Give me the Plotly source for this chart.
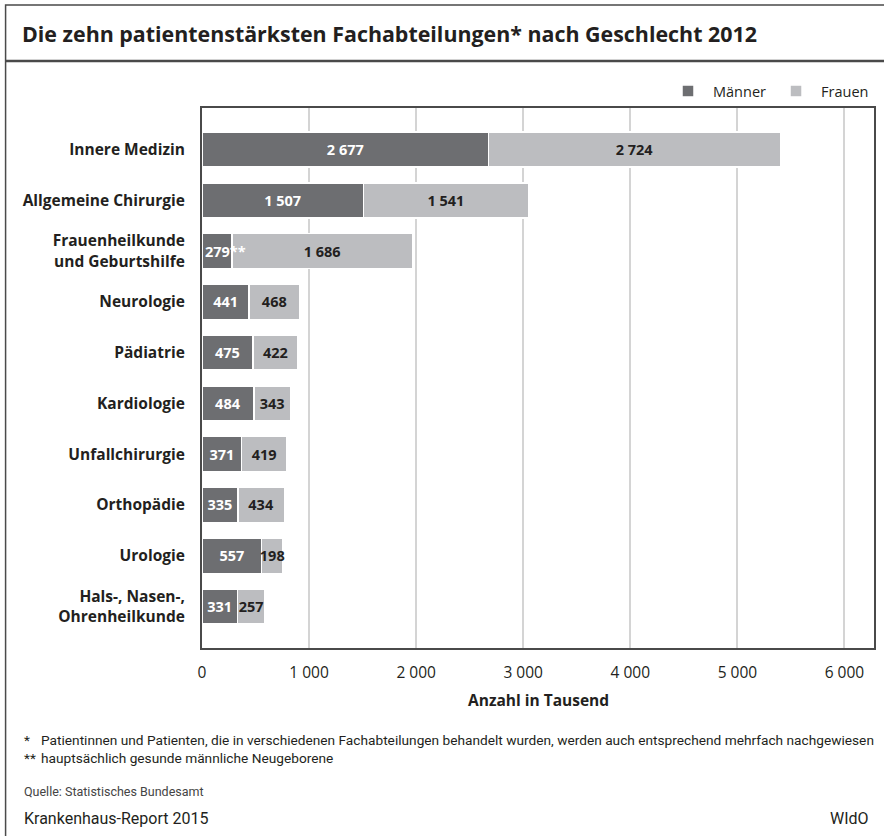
import plotly.graph_objects as go

# ---------------- data ----------------
categories = [
    "Innere Medizin",
    "Allgemeine Chirurgie",
    "Frauenheilkunde<br>und Geburtshilfe",
    "Neurologie",
    "Pädiatrie",
    "Kardiologie",
    "Unfallchirurgie",
    "Orthopädie",
    "Urologie",
    "Hals-, Nasen-,<br>Ohrenheilkunde",
]
maenner = [2677, 1507, 279, 441, 475, 484, 371, 335, 557, 331]
frauen = [2724, 1541, 1686, 468, 422, 343, 419, 434, 198, 257]
maenner_note = ["", "", "**", "", "", "", "", "", "", ""]
x_ticks = [0, 1000, 2000, 3000, 4000, 5000, 6000]

title = "Die zehn patientenstärksten Fachabteilungen* nach Geschlecht 2012"
x_title = "Anzahl in Tausend"
footnote1 = "Patientinnen und Patienten, die in verschiedenen Fachabteilungen behandelt wurden, werden auch entsprechend mehrfach nachgewiesen"
footnote2 = "hauptsächlich gesunde männliche Neugeborene"
source = "Quelle: Statistisches Bundesamt"
report = "Krankenhaus-Report 2015"
brand = "WIdO"

# ---------------- style ----------------
FONT = "Open Sans"
FONT_NARROW = "Roboto"
DARK = "#6d6e71"
LIGHT = "#bcbdc0"
TEXT = "#231f20"
FRAME = "#4a4a4a"

W_PX, H_PX = 884, 836
L, R, T, B = 202, 876, 108, 648
PW, PH = R - L, B - T


def px_x(x):
    return (x - L) / PW


def px_y(y):
    return (B - y) / PH


def fmt(v):
    return f"{v:,}".replace(",", " ")


m_text = ["" if n else fmt(v) for v, n in zip(maenner, maenner_note)]
f_text = [fmt(v) for v in frauen]

LABEL_SIZE = 14.5

fig = go.Figure()
fig.add_trace(go.Bar(
    name="Männer", y=categories, x=maenner, orientation="h",
    marker=dict(color=DARK, line=dict(color="white", width=1.5)),
    text=m_text, textposition="inside", insidetextanchor="middle",
    textangle=0,
    insidetextfont=dict(family=FONT, size=LABEL_SIZE, color="white", weight="bold"),
    hoverinfo="skip",
))
fig.add_trace(go.Bar(
    name="Frauen", y=categories, x=frauen, orientation="h",
    marker=dict(color=LIGHT, line=dict(color="white", width=1.5)),
    text=f_text, textposition="inside", insidetextanchor="middle",
    textangle=0,
    insidetextfont=dict(family=FONT, size=LABEL_SIZE, color=TEXT, weight="bold"),
    hoverinfo="skip",
))

annotations = []
# labels for bars with footnote markers (start-anchored, overflow allowed)
for cat, v, n in zip(categories, maenner, maenner_note):
    if n:
        annotations.append(dict(
            x=0, y=cat, xref="x", yref="y", text=f"{fmt(v)}{n}",
            xanchor="left", yanchor="middle", xshift=1, showarrow=False,
            font=dict(family=FONT, size=LABEL_SIZE, color="white", weight="bold"),
        ))

annotations += [
    dict(x=px_x(19), y=px_y(33), xref="paper", yref="paper", text=f"<b>{title}</b>",
         xanchor="left", yanchor="middle", showarrow=False,
         font=dict(family=FONT, size=21.4, color=TEXT)),
    dict(x=0.5, y=px_y(700), xref="paper", yref="paper", text=f"<b>{x_title}</b>",
         xanchor="center", yanchor="middle", showarrow=False,
         font=dict(family=FONT, size=15.5, color=TEXT)),
    dict(x=px_x(21), y=px_y(740), xref="paper", yref="paper", text="*",
         xanchor="left", yanchor="middle", showarrow=False,
         font=dict(family=FONT_NARROW, size=13.7, color=TEXT)),
    dict(x=px_x(39), y=px_y(740), xref="paper", yref="paper", text=footnote1,
         xanchor="left", yanchor="middle", showarrow=False,
         font=dict(family=FONT_NARROW, size=13.7, color=TEXT)),
    dict(x=px_x(21), y=px_y(758), xref="paper", yref="paper", text="**",
         xanchor="left", yanchor="middle", showarrow=False,
         font=dict(family=FONT_NARROW, size=13.7, color=TEXT)),
    dict(x=px_x(39), y=px_y(758), xref="paper", yref="paper", text=footnote2,
         xanchor="left", yanchor="middle", showarrow=False,
         font=dict(family=FONT_NARROW, size=13.7, color=TEXT)),
    dict(x=px_x(21), y=px_y(791), xref="paper", yref="paper", text=source,
         xanchor="left", yanchor="middle", showarrow=False,
         font=dict(family=FONT_NARROW, size=12.5, color="#444444")),
    dict(x=px_x(21), y=px_y(818), xref="paper", yref="paper", text=report,
         xanchor="left", yanchor="middle", showarrow=False,
         font=dict(family=FONT_NARROW, size=16, color=TEXT)),
    dict(x=px_x(873), y=px_y(818), xref="paper", yref="paper", text=brand,
         xanchor="right", yanchor="middle", showarrow=False,
         font=dict(family=FONT_NARROW, size=16, color=TEXT)),
]

shapes = [
    dict(type="rect", xref="paper", yref="paper",
         x0=px_x(5), x1=px_x(900), y0=px_y(5), y1=px_y(860),
         line=dict(color=FRAME, width=1.5), fillcolor="rgba(0,0,0,0)", layer="below"),
    dict(type="line", xref="paper", yref="paper",
         x0=px_x(5), x1=px_x(900), y0=px_y(61), y1=px_y(61),
         line=dict(color=FRAME, width=2.5)),
]

x_max = 6276
fig.update_layout(
    width=W_PX, height=H_PX,
    margin=dict(l=L, r=W_PX - R, t=T, b=H_PX - B, pad=0),
    barmode="stack", bargap=0.31,
    paper_bgcolor="white", plot_bgcolor="white",
    separators=", ",
    font=dict(family=FONT, color=TEXT),
    uniformtext=dict(minsize=LABEL_SIZE, mode="show"),
    showlegend=True,
    legend=dict(orientation="h", x=1.0, xanchor="right", y=px_y(91), yanchor="middle",
                font=dict(family=FONT, size=14.5, color=TEXT), traceorder="normal",
                bgcolor="rgba(0,0,0,0)", itemwidth=40),
    annotations=annotations,
    shapes=shapes,
    xaxis=dict(range=[0, x_max], tickvals=x_ticks, tickformat=",d",
               showgrid=True, gridcolor="#d4d4d4", gridwidth=1.5,
               zeroline=False, showline=True, linecolor=FRAME, linewidth=2, mirror=True,
               ticks="", ticklabelstandoff=9,
               tickfont=dict(family=FONT, size=15.5, color=TEXT), fixedrange=True),
    yaxis=dict(categoryorder="array", categoryarray=categories,
               range=[len(categories) - 1 + 0.817, -0.817],
               showgrid=False, zeroline=False, showline=True, linecolor=FRAME,
               linewidth=2, mirror=True, ticks="", ticklabelstandoff=12,
               tickfont=dict(family=FONT, size=15.5, color=TEXT, weight="bold"),
               fixedrange=True),
)

fig.write_html("out.html")
